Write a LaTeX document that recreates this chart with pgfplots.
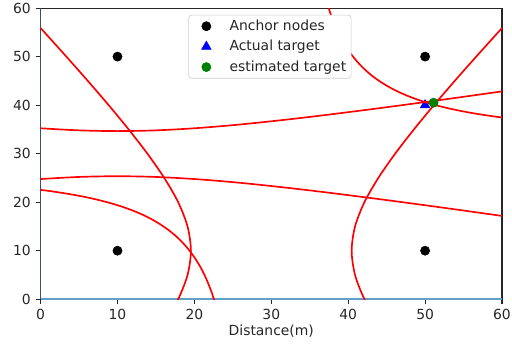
\documentclass[border=0pt]{standalone}
\usepackage{pgfplots}
\pgfplotsset{compat=1.18}
\usepackage{fontspec}
\setmainfont{DejaVu Sans}
\definecolor{spine}{HTML}{262626}
\definecolor{mplblue}{HTML}{1F77B4}
\definecolor{mplgreen}{HTML}{008000}
\begin{document}
\begin{tikzpicture}
\useasboundingbox (-29.2pt,-34.6pt) rectangle (339.2pt,215.3pt);
\begin{axis}[
  scale only axis, width=332pt, height=209.5pt,
  xmin=0, xmax=60, ymin=0, ymax=60,
  xtick={0,10,...,60}, ytick={0,10,...,60},
  tick align=outside, major tick length=3.5pt,
  tick style={spine, line width=0.8pt},
  axis line style={spine, line width=0.8pt},
  xtick pos=bottom, ytick pos=left,
  /pgf/number format/assume math mode=true,
  tick label style={font=\fontsize{10}{12}\selectfont, text=spine},
  xlabel={Distance(m)}, xlabel style={font=\fontsize{10}{12}\selectfont, text=spine, yshift=3pt},
  legend style={at={(0.497,0.977)}, anchor=north, font=\fontsize{10}{12}\selectfont, draw=black!20, rounded corners=2pt, row sep=1.6pt, inner sep=1.5pt, text=spine},
  legend cell align=left,
  legend image code/.code={\path (-11pt,0pt) (14.5pt,0pt); \draw[#1] plot coordinates {(0pt,0pt)};},
  clip mode=individual,
]
% blue lines along x=0 and y=0
\addplot[mplblue!70, line width=1.2pt, forget plot] coordinates {(0,0) (0,60)};
\addplot[mplblue!70, line width=1.2pt, forget plot] coordinates {(0,0) (60,0)};

\addplot[only marks, mark=*, mark size=3.3pt, black] coordinates {(10,50) (50,50) (10,10) (50,10)};
\addlegendentry{Anchor nodes}
\addplot[only marks, mark=triangle*, mark size=4pt, blue] coordinates {(50,40)};
\addlegendentry{Actual target}

% H1 left branch
\addplot[red, line width=1.2pt, smooth, forget plot] coordinates {
(-0.07,56) (0.51,55) (3.35,50) (6.14,45) (8.85,40) (11.45,35) (13.89,30) (16.08,25) (17.89,20) (19.11,15) (19.55,10) (19.11,5) (17.89,0) (16.08,-5)};
% H1 right branch
\addplot[red, line width=1.2pt, smooth, forget plot] coordinates {
(60.07,56) (59.49,55) (56.65,50) (53.86,45) (51.15,40) (48.55,35) (46.11,30) (43.92,25) (42.11,20) (40.89,15) (40.45,10) (40.89,5) (42.11,0) (43.92,-5)};
% H2 upper
\addplot[red, line width=1.2pt, smooth, forget plot] coordinates {
(0,35.23) (5,34.80) (10,34.65) (15,34.80) (20,35.23) (25,35.87) (30,36.67) (35,37.57) (40,38.55) (45,39.57) (50,40.63) (55,41.72) (60,42.83)};
% H2 lower
\addplot[red, line width=1.2pt, smooth, forget plot] coordinates {
(0,24.77) (5,25.20) (10,25.35) (15,25.20) (20,24.77) (25,24.13) (30,23.33) (35,22.43) (40,21.45) (45,20.43) (50,19.37) (55,18.28) (60,17.17)};
% H3 upper
\addplot[red, line width=1.2pt, smooth, forget plot] coordinates {
(37.15,61.62) (37.74,58.65) (38.41,55.96) (39.17,53.53) (40.01,51.33) (40.96,49.35) (42.01,47.56) (43.19,45.95) (44.50,44.50) (45.95,43.19) (47.56,42.01) (49.35,40.96) (51.33,40.01) (53.53,39.17) (55.96,38.41) (58.65,37.74) (61.62,37.15)};
% H3 lower
\addplot[red, line width=1.2pt, smooth, forget plot] coordinates {
(-1.62,22.85) (1.35,22.26) (4.04,21.59) (6.47,20.84) (8.67,19.99) (10.65,19.04) (12.44,17.99) (14.05,16.81) (15.50,15.50) (16.81,14.05) (17.99,12.44) (19.04,10.65) (19.99,8.67) (20.84,6.47) (21.59,4.04) (22.26,1.35) (22.85,-1.62)};

\addplot[only marks, mark=*, mark size=3.3pt, mplgreen] coordinates {(51.1,40.5)};
\addlegendentry{estimated target}
\end{axis}
\end{tikzpicture}
\end{document}
